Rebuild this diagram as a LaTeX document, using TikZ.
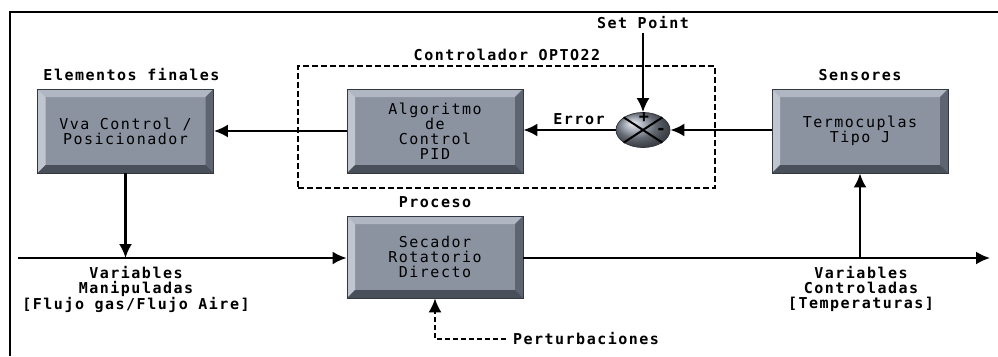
\documentclass[tikz,border=0pt]{standalone}
\usepackage{fontspec}
\usepackage{tikz}
\usetikzlibrary{positioning, calc, arrows.meta, shapes.geometric}

\newfontfamily\monofont[LetterSpace=10]{DejaVu Sans Mono}
\newcommand{\lblfont}{\monofont\bfseries\fontsize{15}{15}\selectfont}
\newcommand{\boxfont}{\monofont\fontsize{15}{15}\selectfont}

\definecolor{boxface}{RGB}{139,147,161}
\definecolor{boxtop}{RGB}{176,183,194}
\definecolor{boxleft}{RGB}{192,198,207}
\definecolor{boxright}{RGB}{94,100,112}
\definecolor{boxbottom}{RGB}{74,80,90}
\definecolor{boxedge}{RGB}{52,56,64}
\definecolor{sumface}{RGB}{140,148,162}

\tikzset{
  bevelbox/.style={fill=boxface, draw=boxedge, line width=0.8pt,
    minimum width=176pt, minimum height=84pt, align=center, font=\boxfont,
    path picture={
      \coordinate (nw) at (path picture bounding box.north west);
      \coordinate (ne) at (path picture bounding box.north east);
      \coordinate (sw) at (path picture bounding box.south west);
      \coordinate (se) at (path picture bounding box.south east);
      \fill[boxtop] (nw) -- (ne) -- ([shift={(-8,8)}]ne) -- ([shift={(8,8)}]nw) -- cycle;
      \fill[boxleft] (nw) -- ([shift={(8,8)}]nw) -- ([shift={(8,-8)}]sw) -- (sw) -- cycle;
      \fill[boxright] (ne) -- (se) -- ([shift={(-8,-8)}]se) -- ([shift={(-8,8)}]ne) -- cycle;
      \fill[boxbottom] (sw) -- (se) -- ([shift={(-8,-8)}]se) -- ([shift={(8,-8)}]sw) -- cycle;
    }},
  title/.style={font=\lblfont, inner sep=0pt, anchor=base},
  sig/.style={line width=2.2pt, -{Latex[length=14pt,width=13pt]}},
  pert/.style={sig, line width=1.8pt, dash pattern=on 5pt off 3pt}
}

\begin{document}
\begin{tikzpicture}[x=1pt, y=-1pt]
  \useasboundingbox (0,0) rectangle (998,356);
  \draw[line width=2.2pt] (998,12) -- (10,12) -- (10,356);

  % blocks
  \node[bevelbox] (vva) at (125.5,131) {Vva Control /\\Posicionador};
  \node[bevelbox] (pid) at (435,131) {Algoritmo\\de\\Control\\PID};
  \node[bevelbox] (termo) at (860,131) {Termocuplas\\Tipo J};
  \node[bevelbox, minimum height=82pt] (sec) at (435,257) {Secador\\Rotatorio\\Directo};
  \node[ellipse, draw=boxedge, line width=0.8pt, shading=ball, ball color=sumface,
        minimum width=54pt, minimum height=35pt, inner sep=0pt] (sum) at (643,130) {};
  \draw[line width=2pt] (sum.north west) -- (sum.south east);
  \draw[line width=2pt] (sum.north east) -- (sum.south west);
  \node[font=\lblfont\fontsize{17}{17}\selectfont, inner sep=0pt] (plus) at (644,118) {+};
  \node[font=\lblfont\fontsize{17}{17}\selectfont, inner sep=0pt] (minus) at (661,131) {-};

  % controller frame
  \node[draw, line width=1.6pt, dash pattern=on 6pt off 3pt, minimum width=417pt,
        minimum height=122pt, inner sep=0pt] (ctrl) at (506.5,127) {};

  % titles
  \node[title] (tvva) at (131.5,80) {Elementos finales};
  \node[title] (tctrl) at (507,60) {Controlador OPTO22};
  \node[title] (tsens) at (860,80) {Sensores};
  \node[title] (tproc) at (435,207) {Proceso};
  \node[title] (sp) at (643,28) {Set Point};
  \node[title] (err) at (579,124) {Error};
  \node[title] (tpert) at (586,344) {Perturbaciones};
  \node[font=\lblfont, align=center, inner sep=0pt, anchor=north] (vman) at (136,266)
    {Variables\\Manipuladas\\{}[Flujo gas/Flujo Aire]};
  \node[font=\lblfont, align=center, inner sep=0pt, anchor=north] (vctl) at (861,266)
    {Variables\\Controladas\\{}[Temperaturas]};

  % main line
  \coordinate (in) at (18,258);
  \coordinate (out) at (990,258);
  \coordinate (pin) at (506,339);
  \draw[sig] (in) -- (sec.west |- in);
  \draw[sig] (sec.east |- out) -- (out);
  \draw[sig] (vva.south) -- (vva.south |- in);
  \draw[sig] (termo.south |- out) -- (termo.south);

  % loop
  \draw[sig] ([yshift=-5pt]sp.base) -- (sum.north);
  \draw[sig] (termo.west |- sum) -- (sum.east);
  \draw[sig] (sum.west) -- (pid.east |- sum);
  \draw[sig] (pid.west) -- (vva.east);
  \draw[pert] (pin) -| (sec.south);
\end{tikzpicture}
\end{document}
